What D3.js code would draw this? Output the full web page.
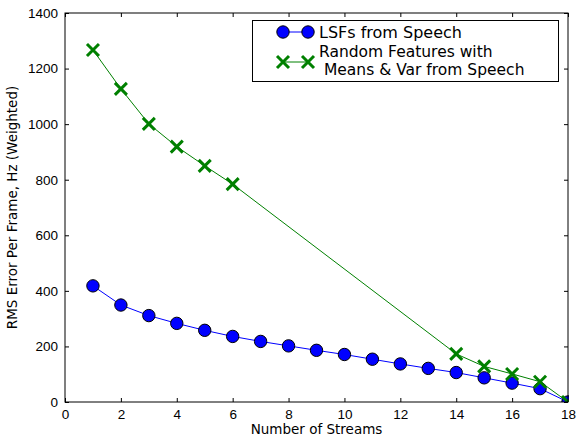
<!DOCTYPE html>
<html>
<head>
<meta charset="utf-8">
<script src="https://cdn.jsdelivr.net/npm/d3@7"></script>
<style>
  body { margin: 0; background: #fff; }
  svg { font-family: "DejaVu Sans", sans-serif; }
</style>
</head>
<body>
<div id="chart"></div>
<script>
// Data
const lsfStreams = [1, 2, 3, 4, 5, 6, 7, 8, 9, 10, 11, 12, 13, 14, 15, 16, 17, 18];
const lsfError = [418, 349, 311, 283, 258, 236, 218, 202, 186, 171, 154, 137, 121, 106, 87, 68, 48, 0];
const randStreams = [1, 2, 3, 4, 5, 6, 14, 15, 16, 17, 18];
const randError = [1267, 1127, 1001, 919, 850, 784, 173, 128, 101, 73, 0];
const xTicks = [0, 2, 4, 6, 8, 10, 12, 14, 16, 18];
const yTicks = [0, 200, 400, 600, 800, 1000, 1200, 1400];

const margin = { top: 13, right: 9, bottom: 35, left: 65 },
      width = 577 - margin.left - margin.right,
      height = 437 - margin.top - margin.bottom;

const svg = d3.select("#chart")
  .append("svg")
  .attr("width", 577)
  .attr("height", 437);

const g = svg.append("g")
  .attr("transform", `translate(${margin.left},${margin.top})`);

const x = d3.scaleLinear().domain([0, 18]).range([0, width]);
const y = d3.scaleLinear().domain([0, 1400]).range([height, 0]);

// Axes with inward ticks on all four sides
function styleAxis(sel) {
  sel.select(".domain").remove();
  sel.selectAll("line").attr("stroke", "#000");
  sel.selectAll("text").attr("font-size", 13.5).attr("fill", "#000");
}

g.append("g")
  .attr("transform", `translate(0,${height})`)
  .call(d3.axisBottom(x).tickValues(xTicks).tickSizeInner(-4).tickSizeOuter(0).tickPadding(7).tickFormat(d3.format("d")))
  .call(styleAxis);

g.append("g")
  .call(d3.axisLeft(y).tickValues(yTicks).tickSizeInner(-4).tickSizeOuter(0).tickPadding(7).tickFormat(d3.format("d")))
  .call(styleAxis);

g.append("g")
  .call(d3.axisTop(x).tickValues(xTicks).tickSizeInner(-4).tickSizeOuter(0).tickFormat(""))
  .call(styleAxis);

g.append("g")
  .attr("transform", `translate(${width},0)`)
  .call(d3.axisRight(y).tickValues(yTicks).tickSizeInner(-4).tickSizeOuter(0).tickFormat(""))
  .call(styleAxis);

// Lines
const lsfData = lsfStreams.map((s, i) => ({ s, v: lsfError[i] }));
const randData = randStreams.map((s, i) => ({ s, v: randError[i] }));

const line = d3.line().x(d => x(d.s)).y(d => y(d.v));

g.append("path")
  .datum(lsfData)
  .attr("fill", "none")
  .attr("stroke", "#0000ff")
  .attr("stroke-width", 1)
  .attr("d", line);

g.append("path")
  .datum(randData)
  .attr("fill", "none")
  .attr("stroke", "#008000")
  .attr("stroke-width", 1)
  .attr("d", line);

// Markers
function circleMark(sel, cx, cy) {
  sel.append("circle")
    .attr("cx", cx).attr("cy", cy).attr("r", 6.2)
    .attr("fill", "#0000ff").attr("stroke", "#000").attr("stroke-width", 1);
}
function crossMark(sel, cx, cy) {
  const r = 6;
  sel.append("path")
    .attr("d", `M${cx - r},${cy - r}L${cx + r},${cy + r}M${cx - r},${cy + r}L${cx + r},${cy - r}`)
    .attr("stroke", "#008000").attr("stroke-width", 3).attr("fill", "none");
}

svg.append("clipPath").attr("id", "plotclip")
  .append("rect").attr("x", -1).attr("y", -1).attr("width", width + 2).attr("height", height + 1);

const marks = g.append("g").attr("clip-path", "url(#plotclip)");
lsfData.forEach(d => circleMark(marks, x(d.s), y(d.v)));
randData.forEach(d => crossMark(marks, x(d.s), y(d.v)));

// Frame
g.append("rect")
  .attr("width", width).attr("height", height)
  .attr("fill", "none").attr("stroke", "#000").attr("stroke-width", 1);

// Axis labels
svg.append("text")
  .attr("x", margin.left + width / 2)
  .attr("y", 434)
  .attr("text-anchor", "middle")
  .attr("font-size", 13.5)
  .text("Number of Streams");

svg.append("text")
  .attr("transform", `translate(17,${margin.top + height / 2}) rotate(-90)`)
  .attr("text-anchor", "middle")
  .attr("font-size", 13.5)
  .text("RMS Error Per Frame, Hz (Weighted)");

// Legend
const leg = svg.append("g");
leg.append("rect")
  .attr("x", 252.5).attr("y", 20.5).attr("width", 306).attr("height", 61)
  .attr("fill", "#fff").attr("stroke", "#000").attr("stroke-width", 1);

leg.append("line").attr("x1", 283).attr("x2", 308).attr("y1", 32).attr("y2", 32)
  .attr("stroke", "#0000ff");
circleMark(leg, 283, 32);
circleMark(leg, 308, 32);
leg.append("text").attr("x", 319).attr("y", 38).attr("font-size", 16).text("LSFs from Speech");

leg.append("line").attr("x1", 283).attr("x2", 308).attr("y1", 62).attr("y2", 62)
  .attr("stroke", "#008000");
crossMark(leg, 283, 62);
crossMark(leg, 308, 62);
leg.append("text").attr("x", 319).attr("y", 57).attr("font-size", 15.5).text("Random Features with");
leg.append("text").attr("x", 319).attr("y", 75).attr("font-size", 15.5)
  .style("white-space", "pre").text(" Means & Var from Speech");
</script>
</body>
</html>
